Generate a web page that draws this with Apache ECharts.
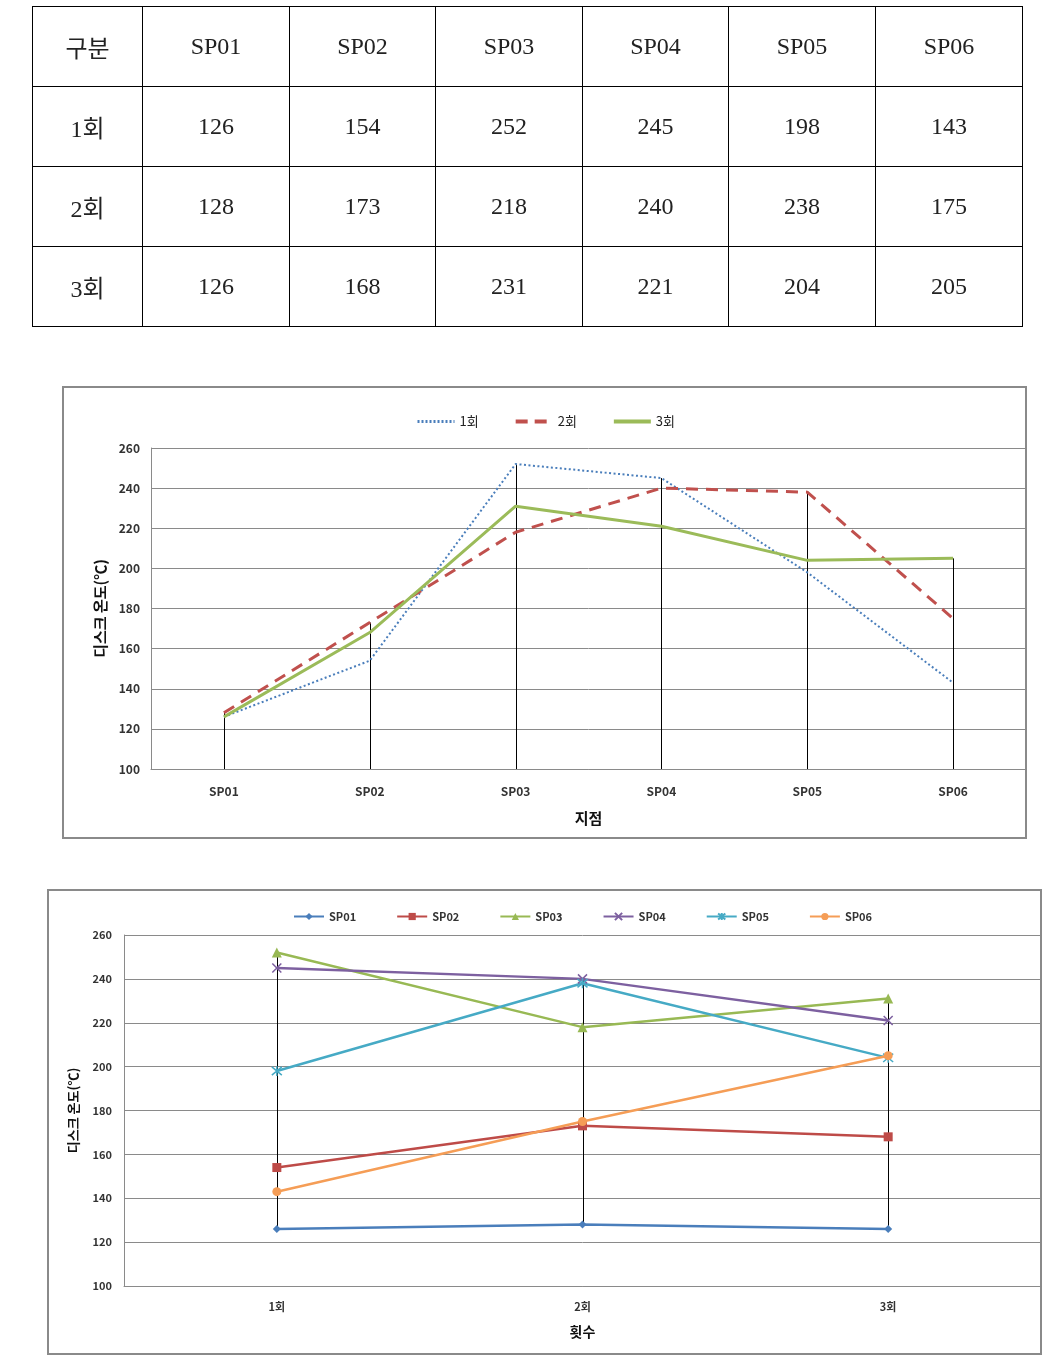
<!DOCTYPE html>
<html>
<head>
<meta charset="utf-8">
<script src="https://cdn.jsdelivr.net/npm/echarts@6/dist/echarts.min.js"></script>
<style>
html, body { margin: 0; padding: 0; background: #fff; }
#page { position: relative; width: 1058px; height: 1360px; }
#chart { position: absolute; left: 0; top: 0; width: 1058px; height: 1360px; }
#table {
  position: absolute; left: 32px; top: 6px;
  border-collapse: collapse; table-layout: fixed;
  font-family: "Liberation Serif", "DejaVu Serif", "Noto Sans CJK KR", serif;
  font-size: 24px; color: #222;
}
#table td { border: 1.5px solid #000; height: 79px; text-align: center; padding: 0; }
</style>
</head>
<body>
<div id="page">
  <div id="chart"></div>
  <table id="table">
    <colgroup>
      <col style="width:110px"><col style="width:147px"><col style="width:146px"><col style="width:147px">
      <col style="width:146px"><col style="width:147px"><col style="width:147px">
    </colgroup>
    <tbody id="tbody"></tbody>
  </table>
</div>
<script>
const points = ['SP01', 'SP02', 'SP03', 'SP04', 'SP05', 'SP06']
const rounds = ['1회', '2회', '3회']
const round1 = [126, 154, 252, 245, 198, 143]
const round2 = [128, 173, 218, 240, 238, 175]
const round3 = [126, 168, 231, 221, 204, 205]
const yMin = 100
const yMax = 260
const yStep = 20

const roundData = [round1, round2, round3]
const pointColors = ['#4A7EBB', '#BE4B48', '#98B954', '#7D60A0', '#46AAC5', '#F59D56']
const pointSymbols = [
  'diamond', 'rect', 'triangle',
  'path://M0,0L10,10M10,0L0,10',
  'path://M0,0L10,10M10,0L0,10M5,-1L5,11',
  'circle'
]
const pointSymbolSizes = [8, 9, 10, 9, 10, 9]

// table
const tbody = document.getElementById('tbody')
let html = '<tr><td>구분</td>' + points.map(p => '<td>' + p + '</td>').join('') + '</tr>'
rounds.forEach((r, i) => {
  html += '<tr><td>' + r + '</td>' + roundData[i].map(v => '<td>' + v + '</td>').join('') + '</tr>'
})
tbody.innerHTML = html

// per point series (transposed)
const pointData = points.map((p, j) => roundData.map(arr => arr[j]))

// drop lines for chart 1, high-low lines for chart 2
const dropData = points.map((p, j) => [j, Math.max(round1[j], round2[j], round3[j])])
const hiLoData = rounds.map((r, i) => [i, Math.max(...roundData[i]), Math.min(...roundData[i])])

const font = '"Noto Sans CJK KR", "Noto Sans", sans-serif'
const gridColor = '#8a8a8a'

function vline(x, y1, y2) {
  const cx = Math.round(x) + 0.5
  return { type: 'line', shape: { x1: cx, y1: y1, x2: cx, y2: y2 }, style: { stroke: '#000', lineWidth: 1 } }
}

function yAxisCfg(gridIndex, nameGap, nameSize, labelSize, labelMargin) {
  return {
    gridIndex: gridIndex,
    type: 'value', min: yMin, max: yMax, interval: yStep,
    name: '디스크 온도(℃)', nameLocation: 'middle', nameGap: nameGap,
    nameTextStyle: { fontSize: nameSize, fontWeight: 'bold', color: '#111', fontFamily: font },
    axisLine: { show: true, lineStyle: { color: gridColor, width: 1 } },
    axisTick: { show: false },
    axisLabel: { margin: labelMargin, fontSize: labelSize, fontWeight: 'bold', color: '#333', fontFamily: font },
    splitLine: { lineStyle: { color: gridColor, width: 1 } }
  }
}

const chart = echarts.init(document.getElementById('chart'))
chart.setOption({
  animation: false,
  textStyle: { fontFamily: font },
  graphic: [
    { type: 'rect', shape: { x: 63, y: 387, width: 963, height: 451 }, style: { fill: 'none', stroke: gridColor, lineWidth: 2 } },
    { type: 'rect', shape: { x: 48, y: 890, width: 993, height: 464 }, style: { fill: 'none', stroke: gridColor, lineWidth: 2 } }
  ],
  legend: [
    {
      data: [
        { name: '1회', lineStyle: { width: 3, type: [2, 2] } },
        { name: '2회', lineStyle: { width: 4, type: [12, 7] } },
        { name: '3회', lineStyle: { width: 4 } }
      ],
      left: 411, top: 410, itemWidth: 37, itemHeight: 14, itemGap: 35,
      itemStyle: { opacity: 0 },
      textStyle: { fontSize: 13, color: '#222', fontFamily: font }
    },
    {
      data: points,
      left: 288, top: 906, itemWidth: 30, itemHeight: 9, itemGap: 40,
      textStyle: { fontSize: 11, fontWeight: 'bold', color: '#333', fontFamily: font }
    }
  ],
  grid: [
    { left: 151, right: 32, top: 448, bottom: 591 },
    { left: 124, right: 17, top: 935, bottom: 74 }
  ],
  xAxis: [
    {
      gridIndex: 0, type: 'category', data: points,
      name: '지점', nameLocation: 'middle', nameGap: 42,
      nameTextStyle: { fontSize: 15, fontWeight: 'bold', color: '#111', fontFamily: font },
      axisLine: { lineStyle: { color: gridColor } },
      axisTick: { show: false },
      axisLabel: { margin: 16, fontSize: 12, fontWeight: 'bold', color: '#333', fontFamily: font }
    },
    {
      gridIndex: 1, type: 'category', data: rounds,
      name: '횟수', nameLocation: 'middle', nameGap: 39,
      nameTextStyle: { fontSize: 14, fontWeight: 'bold', color: '#111', fontFamily: font },
      axisLine: { lineStyle: { color: gridColor } },
      axisTick: { show: false },
      axisLabel: { margin: 15, fontSize: 11, fontWeight: 'bold', color: '#333', fontFamily: font }
    }
  ],
  yAxis: [
    yAxisCfg(0, 43, 15, 12, 11),
    yAxisCfg(1, 44, 13, 11, 12)
  ],
  series: [
    {
      type: 'custom', xAxisIndex: 0, yAxisIndex: 0, silent: true, z: 1,
      data: dropData,
      renderItem: function (params, api) {
        const top = api.coord([api.value(0), api.value(1)])
        const bot = api.coord([api.value(0), yMin])
        return vline(top[0], top[1], bot[1])
      }
    },
    {
      name: '1회', type: 'line', xAxisIndex: 0, yAxisIndex: 0, data: round1, symbol: 'none', z: 3,
      itemStyle: { color: '#4A7EBB' },
      lineStyle: { color: '#4A7EBB', width: 2, type: [2, 2.5] }
    },
    {
      name: '2회', type: 'line', xAxisIndex: 0, yAxisIndex: 0, data: round2, symbol: 'none', z: 3,
      itemStyle: { color: '#C0504D' },
      lineStyle: { color: '#C0504D', width: 3, type: [12, 8] }
    },
    {
      name: '3회', type: 'line', xAxisIndex: 0, yAxisIndex: 0, data: round3, symbol: 'none', z: 3,
      itemStyle: { color: '#9BBB59' },
      lineStyle: { color: '#9BBB59', width: 3 }
    },
    {
      type: 'custom', xAxisIndex: 1, yAxisIndex: 1, silent: true, z: 1,
      data: hiLoData,
      renderItem: function (params, api) {
        const top = api.coord([api.value(0), api.value(1)])
        const bot = api.coord([api.value(0), api.value(2)])
        return vline(top[0], top[1], bot[1])
      }
    }
  ].concat(points.map((p, j) => ({
    name: p, type: 'line', xAxisIndex: 1, yAxisIndex: 1, data: pointData[j], z: 3,
    symbol: pointSymbols[j], symbolSize: pointSymbolSizes[j], showAllSymbol: true,
    itemStyle: { color: pointColors[j], borderColor: pointColors[j], borderWidth: j === 3 || j === 4 ? 1.5 : 0 },
    lineStyle: { color: pointColors[j], width: 2.5 }
  })))
})
</script>
</body>
</html>
